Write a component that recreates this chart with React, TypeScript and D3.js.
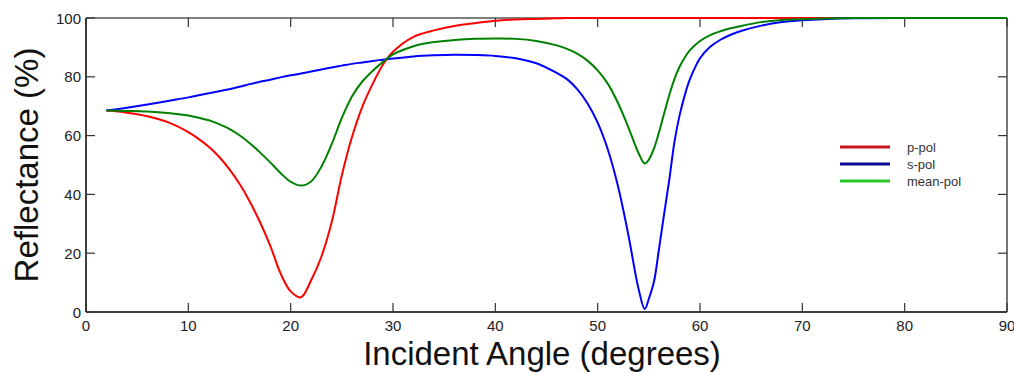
import React from "react";
import * as d3 from "d3";

// Incident angle samples (degrees)
const angles = [
  2, 4, 6, 8, 10, 11, 12, 13, 14, 15, 16, 17, 18, 19, 20, 21, 22, 23, 24, 25, 26, 27, 28, 29, 30,
  32, 34, 36, 38, 40, 42, 44, 46, 47, 48, 49, 50, 51, 52, 53, 54, 54.6, 55, 55.5, 56, 56.5,
  57, 57.5, 58, 58.5, 59, 60, 61, 62, 63, 64, 66, 68, 70, 72, 75, 80, 90,
];

// Reflectance (%) for p-polarised light
const pPol = [
  68.5, 67.8, 66.6, 64.6, 61.2, 58.9, 56.2, 52.8, 48.6, 43.6, 37.6, 30.6, 22.6, 13.2, 7.0, 5.0,
  10.8, 18.8, 30.4, 46.5, 59.6, 69.8, 77.5, 84.0, 88.5, 93.6, 95.8, 97.3, 98.2, 99.1, 99.5, 99.7,
  99.9, 100, 100, 100, 100, 100, 100, 100, 100, 100, 100, 100, 100, 100, 100, 100, 100, 100, 100,
  100, 100, 100, 100, 100, 100, 100, 100, 100, 100, 100, 100,
];

// Reflectance (%) for s-polarised light
const sPol = [
  68.5, 69.5, 70.6, 71.8, 73.0, 73.7, 74.4, 75.1, 75.8, 76.6, 77.5, 78.3, 79.0, 79.8, 80.5, 81.1,
  81.8, 82.5, 83.2, 83.8, 84.4, 84.9, 85.4, 85.8, 86.2, 86.9, 87.3, 87.5, 87.4, 87.1, 86.3, 84.6,
  81.3, 79.2, 75.8, 71.0, 64.4, 55.2, 42.6, 26.2, 7.8, 1.0, 4.5, 10.3, 21.6, 33.5, 45.0, 57.8,
  66.8, 73.6, 79.0, 86.3, 90.2, 92.6, 94.3, 95.6, 97.4, 98.6, 99.2, 99.6, 99.9, 100, 100,
];

// Reflectance (%) for unpolarised (mean) light
const meanPol = [
  68.5, 68.4, 68.2, 67.7, 66.8, 66.1, 65.2, 63.9, 62.3, 60.1, 57.4, 54.3, 50.9, 47.3, 44.3, 43.0,
  44.4, 49.4, 57.0, 66.0, 73.4, 78.4, 82.0, 85.0, 87.6, 90.4, 91.8, 92.5, 92.9, 93.0, 92.9, 92.2,
  90.7, 89.5, 87.9, 85.5, 82.2, 77.6, 71.0, 62.8, 54.0, 50.5, 51.8, 55.6, 61.2, 67.6, 73.8, 79.2,
  83.4, 86.5, 89.0, 92.2, 94.2, 95.5, 96.5, 97.3, 98.6, 99.3, 99.6, 99.8, 100, 100, 100,
];

const xTicks = [0, 10, 20, 30, 40, 50, 60, 70, 80, 90];
const yTicks = [0, 20, 40, 60, 80, 100];

const seriesNames = ["p-pol", "s-pol", "mean-pol"];
const seriesValues = [pPol, sPol, meanPol];
const lineColors = ["#ff0000", "#0000ff", "#008000"];
const legendColors = ["#c8141e", "#0a0a96", "#28c828"];

const W = 1014;
const H = 372;
const plot = { left: 86, right: 1007, top: 18, bottom: 312 };
const FONT = "'Liberation Sans', Arial, sans-serif";

export default function App() {
  const x = d3.scaleLinear().domain([0, 90]).range([plot.left, plot.right]);
  const y = d3.scaleLinear().domain([0, 100]).range([plot.bottom, plot.top]);
  const tickLen = 9;

  const line = d3
    .line<number>()
    .x((_, i) => x(angles[i]))
    .y((d) => y(d))
    .curve(d3.curveCatmullRom.alpha(0.5));

  return (
    <div style={{ position: "absolute", left: 0, top: 0 }}>
      <svg width={W} height={H} style={{ display: "block", background: "#fff" }}>
        {/* frame */}
        <line x1={plot.left} x2={plot.right} y1={plot.bottom} y2={plot.bottom} stroke="#000" strokeWidth={1.5} />
        <line x1={plot.left} x2={plot.left} y1={plot.top} y2={plot.bottom} stroke="#000" strokeWidth={1.5} />
        <line x1={plot.left} x2={plot.right} y1={plot.top} y2={plot.top} stroke="#000" strokeWidth={1.2} />
        <line x1={plot.right} x2={plot.right} y1={plot.top} y2={plot.bottom} stroke="#777" strokeWidth={2} />

        {/* x ticks (bottom and top, pointing inward) */}
        {xTicks.map((t) => (
          <g key={"xt" + t}>
            <line x1={x(t)} x2={x(t)} y1={plot.bottom} y2={plot.bottom - tickLen} stroke="#333" strokeWidth={1.2} />
            <line x1={x(t)} x2={x(t)} y1={plot.top} y2={plot.top + tickLen} stroke="#333" strokeWidth={1.2} />
            <text x={x(t)} y={331} textAnchor="middle" fontFamily={FONT} fontSize={15} fill="#222">
              {t}
            </text>
          </g>
        ))}

        {/* y ticks (left and right, pointing inward) */}
        {yTicks.map((t) => (
          <g key={"yt" + t}>
            <line x1={plot.left} x2={plot.left + tickLen} y1={y(t)} y2={y(t)} stroke="#333" strokeWidth={1.2} />
            <line x1={plot.right} x2={plot.right - tickLen} y1={y(t)} y2={y(t)} stroke="#333" strokeWidth={1.2} />
            <text x={81} y={y(t) + 5.5} textAnchor="end" fontFamily={FONT} fontSize={15} fill="#222">
              {t}
            </text>
          </g>
        ))}

        {/* reflectance curves */}
        {seriesValues.map((vals, i) => (
          <path key={seriesNames[i]} d={line(vals) || ""} fill="none" stroke={lineColors[i]} strokeWidth={2} />
        ))}

        {/* legend */}
        {seriesNames.map((name, i) => (
          <g key={"lg" + name} transform={`translate(0, ${147 + i * 17})`}>
            <line x1={840} x2={890} y1={0} y2={0} stroke={legendColors[i]} strokeWidth={3} />
            <text x={907} y={4.5} fontFamily={FONT} fontSize={13} fill="#333">
              {name}
            </text>
          </g>
        ))}

        {/* axis titles */}
        <text x={542} y={365} textAnchor="middle" fontFamily={FONT} fontSize={33} fill="#111">
          Incident Angle (degrees)
        </text>
        <text
          transform={`translate(38, 165) rotate(-90)`}
          textAnchor="middle"
          fontFamily={FONT}
          fontSize={33}
          fill="#111"
        >
          Reflectance (%)
        </text>
      </svg>
    </div>
  );
}
